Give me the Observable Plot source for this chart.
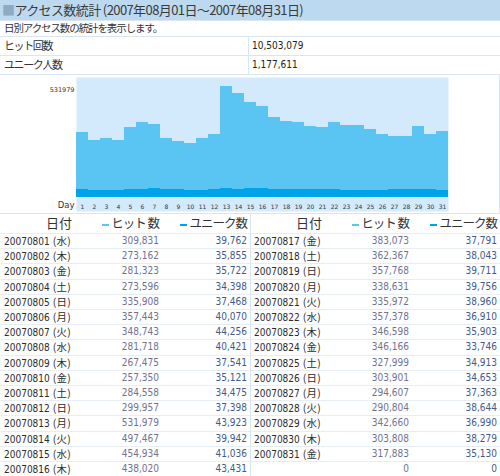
<!DOCTYPE html>
<html><head><meta charset="utf-8">
<script src="https://cdn.jsdelivr.net/npm/d3@7"></script>
<script src="https://cdn.jsdelivr.net/npm/@observablehq/plot@0.6"></script>
<style>
html,body{margin:0;padding:0}
body{width:500px;height:476px;overflow:hidden;background:#fff;position:relative;font-family:"Noto Sans CJK JP",sans-serif;color:#333}
.a{position:absolute;white-space:nowrap}
.hl{position:absolute;left:0;width:500px;height:1px;background:#d9e5ef}
.vl{position:absolute;width:1px;background:#d9e5ef}
.num{font-family:"DejaVu Sans Condensed","DejaVu Sans",sans-serif;font-stretch:condensed;font-size:10px}
.jp{font-family:"Noto Sans CJK JP",sans-serif}
</style></head>
<body>
<div id="root"></div>
<script>
// ---- data ----
const title = "アクセス数統計 (2007年08月01日～2007年08月31日)";
const subtitle = "日別アクセス数の統計を表示します。";
const totalLabels = ["ヒット回数", "ユニーク人数"];
const totalValues = ["10,503,079", "1,177,611"];
const headers = ["日付", "ヒット 数", "ユニーク数"];
const days = [1,2,3,4,5,6,7,8,9,10,11,12,13,14,15,16,17,18,19,20,21,22,23,24,25,26,27,28,29,30,31];
const dates = ["20070801","20070802","20070803","20070804","20070805","20070806","20070807","20070808","20070809","20070810","20070811","20070812","20070813","20070814","20070815","20070816","20070817","20070818","20070819","20070820","20070821","20070822","20070823","20070824","20070825","20070826","20070827","20070828","20070829","20070830","20070831"];
const weekdays = ["水","木","金","土","日","月","火","水","木","金","土","日","月","火","水","木","金","土","日","月","火","水","木","金","土","日","月","火","水","木","金"];
const hits = [309831,273162,281323,273596,335908,357443,348743,281718,267475,257350,284558,299957,531979,497467,454934,438020,383073,362367,357768,338631,335972,357378,346598,346166,327999,303901,294607,290804,342660,303808,317883];
const uniques = [39762,35855,35722,34398,37468,40070,44256,40421,37541,35121,34475,37398,43923,39942,41036,43431,37791,38043,39711,39756,38960,36910,35903,33746,34913,34653,37363,38644,36990,38279,35130];
const hitColor = "#5ac4f3", uniqColor = "#00a2e9", bgColor = "#d3eafc";

const root = document.getElementById("root");
function el(tag, cls, style, html){const e=document.createElement(tag); if(cls) e.className=cls; if(style) e.style.cssText=style; if(html!=null) e.innerHTML=html; root.appendChild(e); return e;}

// title bar
el("div","a","left:0;top:0;width:500px;height:20px;background:#bcd9ef");
el("div","a","left:2px;top:0;height:20px;line-height:20px;font-size:13px;letter-spacing:-0.6px;color:#3a3a3a",
  '<span style="color:#8fa9c4">■</span>' + title);
el("div","hl","top:20px");
el("div","a","left:4px;top:20px;line-height:16px;font-size:10.5px;letter-spacing:-1.1px", subtitle);
el("div","hl","top:36px");
el("div","a","left:4px;top:36px;line-height:19px;font-size:11px;letter-spacing:-1.4px", totalLabels[0]);
el("div","a num","left:252px;top:36px;line-height:19px;color:#222", totalValues[0]);
el("div","hl","top:55px");
el("div","a","left:4px;top:55px;line-height:19px;font-size:11px;letter-spacing:-1.4px", totalLabels[1]);
el("div","a num","left:252px;top:55px;line-height:19px;color:#222", totalValues[1]);
el("div","hl","top:74px");
el("div","vl","left:248px;top:36px;height:38px");
el("div","hl","top:213px");
el("div","vl","left:499px;top:74px;height:139px");

// chart
const data = days.map((d,i)=>({day:d, hits:hits[i], uniques:uniques[i]}));
const chart = Plot.plot({
  width: 500, height: 138,
  marginLeft: 76, marginRight: 52, marginTop: 2, marginBottom: 16,
  style: {fontFamily: "DejaVu Sans", fontSize: "6px", color: "#333", background: "transparent"},
  x: {type: "band", domain: days, padding: 0},
  y: {domain: [0, d3.max(hits)], insetTop: 9},
  marks: [
    Plot.frame({fill: bgColor, stroke: null, insetBottom: -14}),
    Plot.barY(data, {x: "day", y: "hits", fill: hitColor, inset: 0, shapeRendering: "crispEdges"}),
    Plot.barY(data, {x: "day", y: "uniques", fill: uniqColor, inset: 0, shapeRendering: "crispEdges"}),
    Plot.axisX({tickSize: 0, tickPadding: 7, label: null, fontSize: 6}),
    Plot.axisY({ticks: [d3.max(hits)], tickSize: 0, tickPadding: 2, tickFormat: d => String(d), label: null, fontSize: 6.5, dy: 3}),
    Plot.text(["Day"], {frameAnchor: "bottom-left", textAnchor: "end", dx: -2, dy: 10, fontSize: 8.5, fill: "#333"})
  ]
});
const holder = el("div","a","left:0;top:75px;width:500px;height:138px");
holder.appendChild(chart);

// tables
const rowH = 15.2, top0 = 233;
for (let side = 0; side < 2; side++) {
  const ox = side * 250;
  el("div","a","left:"+(ox+29)+"px;width:60px;text-align:center;top:213px;line-height:20px;font-size:13px;color:#333", headers[0]);
  el("div","a","right:"+(500-ox-159)+"px;top:213px;line-height:20px;font-size:12.5px;letter-spacing:-1px;color:#333",
    '<span style="display:inline-block;width:7px;height:2px;background:'+hitColor+';vertical-align:middle;margin-right:2px"></span>' + headers[1]);
  el("div","a","right:"+(500-ox-247)+"px;top:213px;line-height:20px;font-size:12.5px;letter-spacing:-1px;color:#333",
    '<span style="display:inline-block;width:7px;height:2px;background:'+uniqColor+';vertical-align:middle;margin-right:2px"></span>' + headers[2]);
  for (let r = 0; r < 16; r++) {
    const i = side * 16 + r;
    const y = top0 + r * rowH;
    el("div","hl","left:"+ox+"px;width:250px;top:"+Math.round(y)+"px;background:#e6edf3");
    const dateTxt = i < dates.length ? dates[i] + ' <span class="jp" style="font-size:10.4px;letter-spacing:0.3px">(' + weekdays[i] + ')</span>' : "";
    const hv = i < hits.length ? d3.format(",")(hits[i]) : "0";
    const uv = i < uniques.length ? d3.format(",")(uniques[i]) : "0";
    el("div","a num","left:"+(ox+4)+"px;top:"+y+"px;line-height:15px;color:#2b2b2b", dateTxt);
    el("div","a num","right:"+(500-ox-159)+"px;top:"+y+"px;line-height:15px;color:#71718f", hv);
    el("div","a num","right:"+(500-ox-247)+"px;top:"+y+"px;line-height:15px;color:#3f5a88", uv);
  }
}
el("div","vl","left:250px;top:213px;height:263px");
</script>
</body></html>
